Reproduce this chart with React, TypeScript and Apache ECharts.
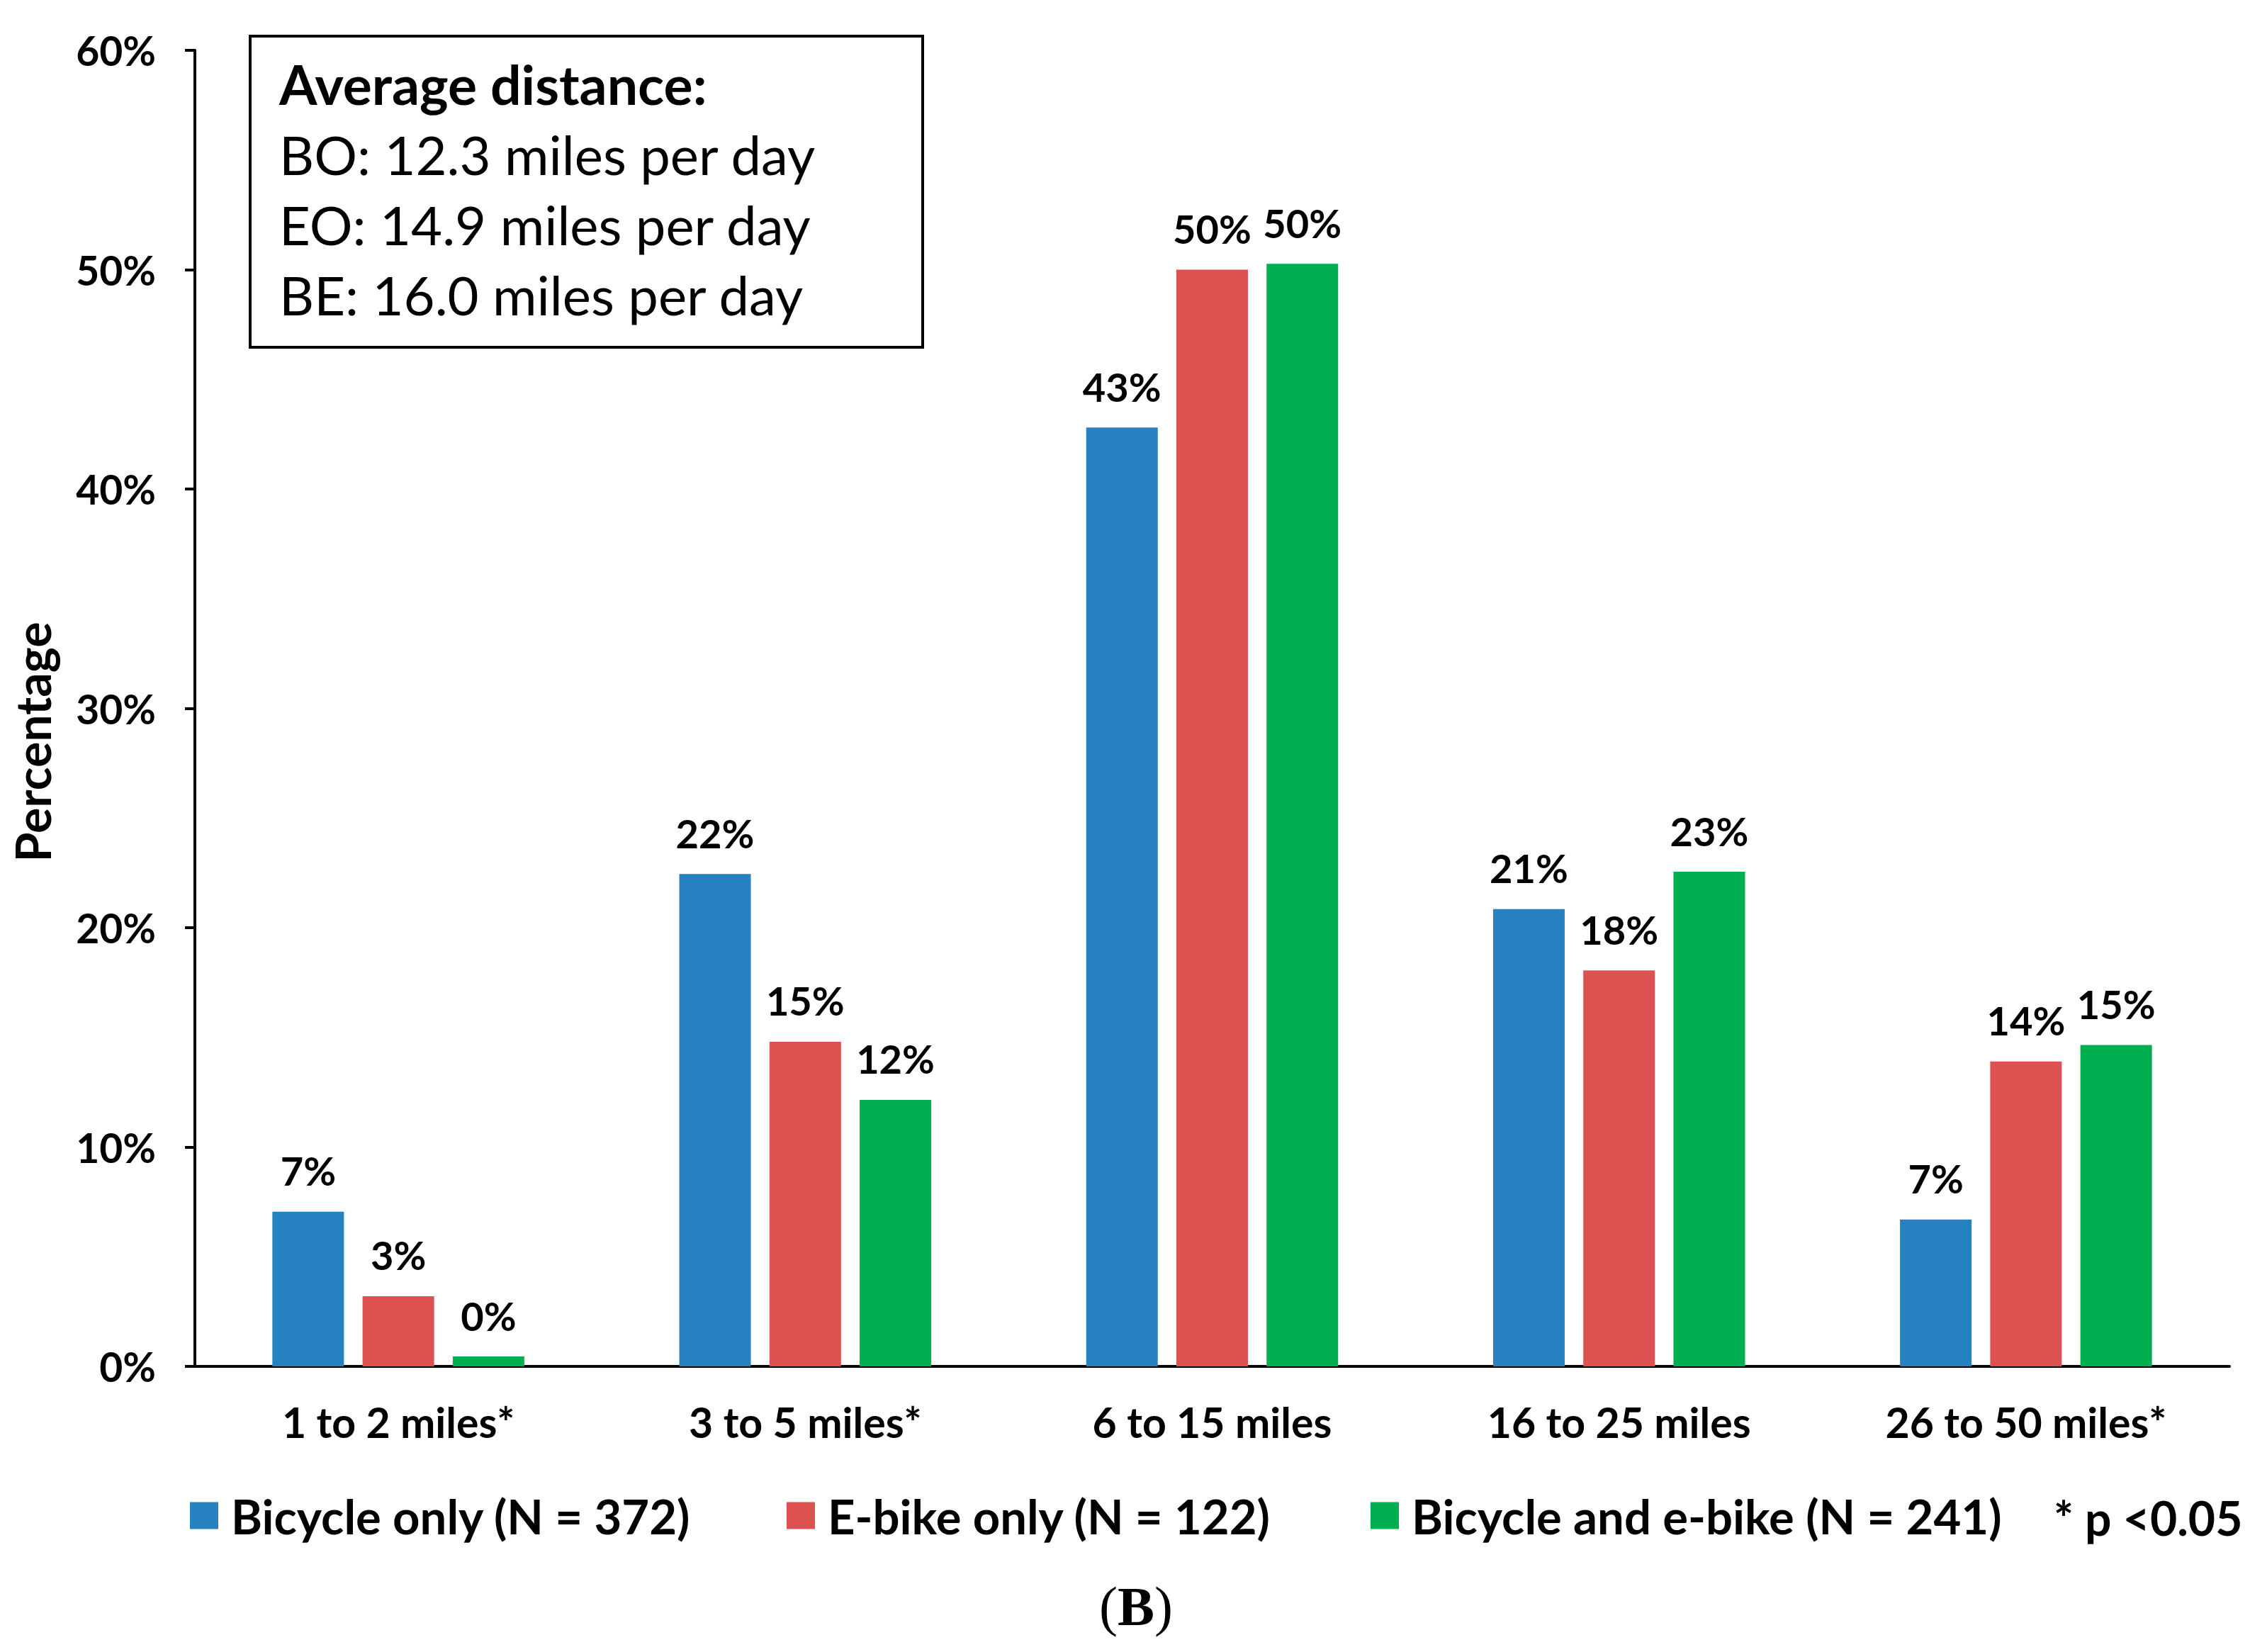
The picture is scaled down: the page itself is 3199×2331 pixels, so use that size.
import React, { useEffect, useRef } from "react";
import * as echarts from "echarts";

const categories = ["1 to 2 miles*", "3 to 5 miles*", "6 to 15 miles", "16 to 25 miles", "26 to 50 miles*"];
const seriesNames = ["Bicycle only (N = 372)", "E-bike only (N = 122)", "Bicycle and e-bike (N = 241)"];
const bicycleOnly = [7.05, 22.45, 42.8, 20.85, 6.7];
const ebikeOnly = [3.2, 14.8, 50.0, 18.05, 13.9];
const bicycleAndEbike = [0.45, 12.15, 50.27, 22.55, 14.65];
const seriesColors = ["#2681C1", "#DD5151", "#00B050"];
const yMin = 0;
const yMax = 60;
const yInterval = 10;
const yAxisTitle = "Percentage";
const boxTitle = "Average distance:";
const boxLines = ["BO: 12.3 miles per day", "EO: 14.9 miles per day", "BE: 16.0 miles per day"];
const footnote = "* p <0.05";
const panelLetter = "B";

const FONT = "Lato";

export default function App() {
  const ref = useRef<HTMLDivElement>(null);
  useEffect(() => {
    document.body.style.margin = "0";
    const chart = echarts.init(ref.current!, undefined, { renderer: "svg" });
    const data = [bicycleOnly, ebikeOnly, bicycleAndEbike];
    const legendLefts = [268, 1110, 1934];
    const option: any = {
      animation: false,
      backgroundColor: "#ffffff",
      textStyle: { fontFamily: FONT },
      grid: { left: 275, right: 53, top: 71, bottom: 403, containLabel: false },
      legend: seriesNames.map((n, i) => ({
        data: [n],
        left: legendLefts[i],
        top: 2105,
        padding: 0,
        icon: "rect",
        itemWidth: 40,
        itemHeight: 38,
        selectedMode: false,
        textStyle: {
          fontFamily: FONT,
          fontSize: 67,
          fontWeight: "bold",
          color: "#000",
          lineHeight: 67,
          padding: [0, 0, 0, 13],
        },
      })),
      xAxis: {
        type: "category",
        data: categories,
        axisLine: { lineStyle: { color: "#000", width: 4 } },
        axisTick: { show: false },
        axisLabel: {
          color: "#000",
          fontFamily: FONT,
          fontSize: 59,
          fontWeight: "bold",
          margin: 49,
          lineHeight: 59,
        },
      },
      yAxis: {
        type: "value",
        min: yMin,
        max: yMax,
        interval: yInterval,
        axisLine: { show: true, lineStyle: { color: "#000", width: 4 } },
        axisTick: { show: true, length: 14, lineStyle: { color: "#000", width: 4 } },
        splitLine: { show: false },
        axisLabel: {
          color: "#000",
          fontFamily: FONT,
          fontSize: 57,
          fontWeight: "bold",
          margin: 55,
          formatter: "{value}%",
        },
      },
      series: seriesNames.map((n, i) => ({
        name: n,
        type: "bar",
        data: data[i],
        barWidth: 101,
        barGap: "26%",
        itemStyle: { color: seriesColors[i] },
        label: {
          show: true,
          position: "top",
          distance: 30,
          color: "#000",
          fontFamily: FONT,
          fontSize: 56,
          fontWeight: "bold",
          formatter: (p: any) => Math.round(p.value) + "%",
        },
      })),
      graphic: [
        {
          type: "rect",
          shape: { x: 353, y: 51, width: 949, height: 439 },
          style: { fill: "#fff", stroke: "#000", lineWidth: 4 },
          z: 10,
        },
        {
          type: "text",
          x: 394,
          y: 118,
          z: 11,
          style: {
            text: boxTitle,
            fontFamily: FONT,
            fontSize: 77,
            fontWeight: "bold",
            fill: "#000",
            textAlign: "left",
            textVerticalAlign: "middle",
          },
        },
        ...boxLines.map((t, i) => ({
          type: "text",
          x: 394,
          y: 217 + i * 99,
          z: 11,
          style: {
            text: t,
            fontFamily: FONT,
            fontSize: 76,
            fontWeight: "normal",
            fill: "#000",
            textAlign: "left",
            textVerticalAlign: "middle",
          },
        })),
        {
          type: "text",
          x: 45,
          y: 1047,
          rotation: Math.PI / 2,
          style: {
            text: yAxisTitle,
            fontFamily: FONT,
            fontSize: 68,
            fontWeight: "bold",
            fill: "#000",
            textAlign: "center",
            textVerticalAlign: "middle",
          },
        },
        {
          type: "text",
          x: 2898,
          y: 2141,
          style: {
            text: footnote,
            fontFamily: FONT,
            fontSize: 66,
            fontWeight: "bold",
            fill: "#000",
            textAlign: "left",
            textVerticalAlign: "middle",
          },
        },
        {
          type: "text",
          x: 1603,
          y: 2266,
          style: {
            text: "{p|(}{b|" + panelLetter + "}{p|)}",
            fontFamily: "Liberation Serif",
            fontSize: 78,
            fill: "#000",
            textAlign: "center",
            textVerticalAlign: "middle",
            rich: {
              p: { fontFamily: "Liberation Serif", fontSize: 78, fontWeight: "normal", fill: "#000" },
              b: { fontFamily: "Liberation Serif", fontSize: 78, fontWeight: "bold", fill: "#000" },
            },
          },
        },
      ],
    };
    chart.setOption(option);
    return () => chart.dispose();
  }, []);
  return <div ref={ref} style={{ width: 3199, height: 2331 }} />;
}
